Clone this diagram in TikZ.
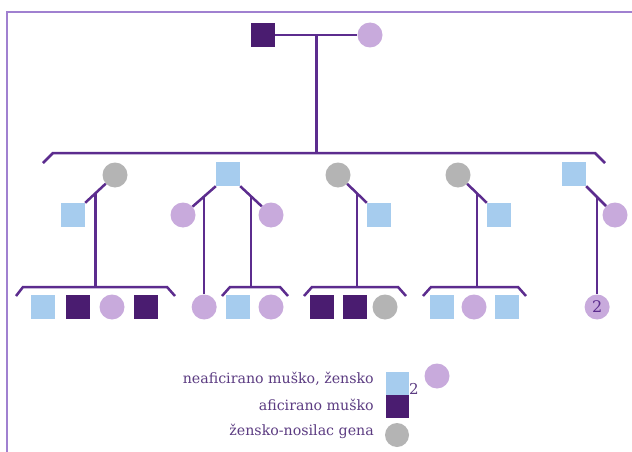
\documentclass[tikz,border=0pt]{standalone}
\usepackage{fontspec}
\setmainfont{DejaVu Serif}
\usetikzlibrary{calc}
\definecolor{lineC}{RGB}{92,44,142}
\definecolor{frameC}{RGB}{160,128,208}
\definecolor{affC}{RGB}{74,28,112}
\definecolor{maleC}{RGB}{166,204,238}
\definecolor{femC}{RGB}{200,170,220}
\definecolor{carC}{RGB}{180,180,180}
\definecolor{txtC}{RGB}{92,60,130}
\begin{document}
\begin{tikzpicture}[x=1pt,y=-1pt,
  link/.style={draw=lineC,line width=2.5pt},
  frame/.style={draw=frameC,line width=2pt},
  sq/.style={rectangle,inner sep=0pt,minimum size=24pt},
  ci/.style={circle,inner sep=0pt,minimum size=25pt},
  unaff/.style={sq,fill=maleC},
  aff/.style={sq,fill=affC},
  fem/.style={ci,fill=femC},
  carrier/.style={ci,fill=carC},
  lbl/.style={anchor=east,text=txtC,font=\fontsize{14.2}{16}\selectfont,inner sep=0pt}]
\useasboundingbox (0,0) rectangle (632,452);
\fill[white] (0,0) rectangle (632,452);

% frame: top and left edges
\coordinate (fTR) at (632,12);
\coordinate (fTL) at (7,12);
\coordinate (fBL) at (7,452);
\draw[frame] (fTR) -- (fTL) -- (fBL);

% generation I
\node[aff] (p1) at (263,35) {};
\node[fem] (p2) at (370,35) {};
\draw[link] (p1) -- coordinate[pos=0.5] (mp) (p2);
\coordinate (sibI) at (314,153);
\draw[link] (mp) -- (mp |- sibI);
\coordinate (sibIL) at (53,153);
\coordinate (sibIR) at (595,153);
\coordinate (sibILt) at (43,163);
\coordinate (sibIRt) at (605,163);
\draw[link] (sibILt) -- (sibIL) -- (sibIR) -- (sibIRt);

% generation II
\node[carrier] (g1) at (115,175) {};
\node[unaff] (s1) at (73,215) {};
\node[unaff] (s2) at (228,174) {};
\node[fem] (w2a) at (183,215) {};
\node[fem] (w2b) at (271,215) {};
\node[carrier] (g3) at (338,175) {};
\node[unaff] (s3) at (379,215) {};
\node[carrier] (g4) at (458,175) {};
\node[unaff] (s4) at (499,215) {};
\node[unaff] (s5) at (574,174) {};
\node[fem] (w5) at (615,215) {};

\draw[link] (g1) -- coordinate[pos=0.5] (m1) (s1.north east);
\draw[link] (s2.south west) -- coordinate[pos=0.5] (m2a) (w2a);
\draw[link] (s2.south east) -- coordinate[pos=0.5] (m2b) (w2b);
\draw[link] (g3) -- coordinate[pos=0.5] (m3) (s3.north west);
\draw[link] (g4) -- coordinate[pos=0.5] (m4) (s4.north west);
\draw[link] (s5.south east) -- coordinate[pos=0.55] (m5) (w5);

% sibship bars of generation III
\coordinate (b1L) at (23,287);  \coordinate (b1R) at (167,287);
\coordinate (b1Lt) at (16,296); \coordinate (b1Rt) at (175,296);
\coordinate (b2L) at (230,287); \coordinate (b2R) at (280,287);
\coordinate (b2Lt) at (222,296); \coordinate (b2Rt) at (288,296);
\coordinate (b3L) at (312,287); \coordinate (b3R) at (398,287);
\coordinate (b3Lt) at (304,296); \coordinate (b3Rt) at (406,296);
\coordinate (b4L) at (431,287); \coordinate (b4R) at (518,287);
\coordinate (b4Lt) at (423,296); \coordinate (b4Rt) at (526,296);
\foreach \b in {b1,b2,b3,b4}
  \draw[link] (\b Lt) -- (\b L) -- (\b R) -- (\b Rt);

\draw[link] (m1) -- (m1 |- b1L);
\draw[link] (m2b) -- (m2b |- b2L);
\draw[link] (m3) -- (m3 |- b3L);
\draw[link] (m4) -- (m4 |- b4L);

% generation III
\node[unaff] (c11) at (43,307) {};
\node[aff] (c12) at (78,307) {};
\node[fem] (c13) at (112,307) {};
\node[aff] (c14) at (146,307) {};
\node[fem] (c2a) at (m2a |- 0,307) {};
\node[unaff] (c21) at (238,307) {};
\node[fem] (c22) at (271,307) {};
\node[aff] (c31) at (322,307) {};
\node[aff] (c32) at (355,307) {};
\node[carrier] (c33) at (385,307) {};
\node[unaff] (c41) at (442,307) {};
\node[fem] (c42) at (474,307) {};
\node[unaff] (c43) at (507,307) {};
\node[fem,text=lineC,font=\fontsize{16}{18}\selectfont] (c5) at (m5 |- 0,307) {2};
\draw[link] (m2a) -- (c2a);
\draw[link] (m5) -- (c5);

% legend
\node[lbl] (l1) at (374,379) {neaficirano muško, žensko};
\node[lbl] (l2) at (374,405) {aficirano muško};
\node[lbl] (l3) at (374,431) {žensko-nosilac gena};
\node[unaff,minimum size=23pt] (k1) at (397,383) {};
\node[text=txtC,font=\fontsize{15}{18}\selectfont,inner sep=0pt] (k2) at (414,389) {2};
\node[fem] (k3) at (437,376) {};
\node[aff,minimum size=23pt] (k4) at (397,406) {};
\node[carrier,minimum size=24pt] (k5) at (397,435) {};
\end{tikzpicture}
\end{document}
